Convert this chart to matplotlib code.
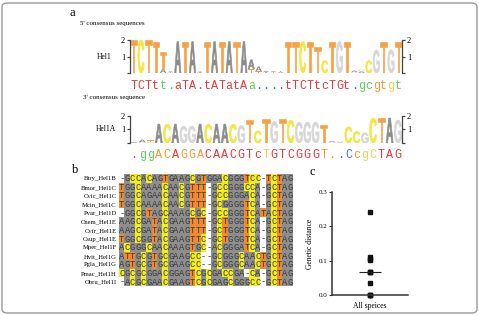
import numpy as np
import matplotlib
matplotlib.use('Agg')
import matplotlib.pyplot as plt
from matplotlib.textpath import TextPath
from matplotlib.font_manager import FontProperties
from matplotlib.patches import PathPatch, FancyBboxPatch
from matplotlib.transforms import Affine2D
from matplotlib.colors import to_rgb

plt.rcParams['font.family'] = ['Liberation Serif', 'DejaVu Serif']

# ---- data ----
hel1_consensus = "TCTtt.aTA.tATatAa....tTCTtcTGt.gcgtgt"
hel1_cons_col = "rrrrggrrrbrrrrrrgbbbbrrrrrrrrrbggooyg"
hel1_stacks = [
    {"T": 2.0}, {"C": 2.0}, {"T": 2.0}, {"T": 1.9}, {"T": 1.0, "A": 0.25},
    {"A": 0.06, "T": 0.04}, {"A": 1.9}, {"T": 1.9}, {"A": 1.9}, {"A": 0.05, "T": 0.04},
    {"T": 1.9}, {"A": 1.9}, {"T": 1.9}, {"A": 1.9}, {"T": 1.9}, {"A": 1.9},
    {"A": 0.55, "T": 0.25}, {"A": 0.3, "T": 0.1}, {"A": 0.08, "T": 0.05}, {"A": 0.06, "T": 0.05},
    {"T": 0.08, "A": 0.05}, {"T": 1.9}, {"T": 1.9}, {"C": 1.9}, {"T": 1.9}, {"T": 1.6},
    {"C": 0.75}, {"T": 1.9}, {"G": 1.9}, {"T": 1.9}, {"A": 0.1, "G": 0.05},
    {"G": 0.12, "A": 0.1}, {"C": 0.75}, {"G": 1.4}, {"T": 1.9}, {"G": 1.4}, {"T": 1.9},
]

hel1a_consensus = ".ggACAGGACAACGTcTGTCGGGT..CcgCTAG"
hel1a_cons_col = "bggoorooorrrrrrryrrrrrroobboyyrrrr"[:33]
hel1a_stacks = [
    {"A": 0.08}, {"A": 0.2, "G": 0.05}, {"T": 0.12, "G": 0.08}, {"A": 1.4}, {"C": 1.4},
    {"A": 1.4}, {"G": 1.25}, {"G": 1.25}, {"A": 1.4}, {"C": 1.4}, {"A": 1.4}, {"A": 1.4},
    {"C": 1.4}, {"G": 1.3}, {"T": 1.7}, {"C": 0.9}, {"T": 1.8}, {"G": 1.6}, {"T": 1.8},
    {"C": 1.7}, {"G": 1.55}, {"G": 1.55}, {"G": 1.55}, {"T": 1.3}, {"A": 0.08, "G": 0.06},
    {"G": 0.08, "A": 0.05}, {"C": 1.2}, {"C": 0.85}, {"G": 0.75}, {"C": 1.85}, {"T": 1.85},
    {"A": 1.85}, {"G": 1.7},
]

names = ["Btry_Hel1B", "Bmor_Hel1C", "Cvic_Hel1C", "Mcin_Hel1C", "Pvar_Hel1D",
         "Cnem_Hel1E", "Cvir_Hel1E", "Csup_Hel1E", "Mper_Hel1F", "Hvit_Hel1G",
         "Pgla_Hel1G", "Pmac_Hel1H", "Obru_Hel1I"]
seqs = ["-GCCACAGTGAAGCGTGGACGGGTCC-TCTAG",
        "TGGCAAAACAACGTTT-GCCGGGCCA-GCTAG",
        "TGGCAGAACAACGTTT-GCCGGGACA-GCTAG",
        "TGGCAAAACAACGTTT-GCGGGGTCA-GCTAG",
        "-GGCGTAGCAAAGCGC-GCCGGGTCATACTAG",
        "AAGCGATACGAAGTTT-GCTGGGTCA-GCTAG",
        "AAGCGATACGAAGTTT-GCTGGGTCA-GCTAG",
        "TGGCGGTACGAAGTTC-GCTGGGTCA-GCTAG",
        "ACGGGCAACAAAGTGC-ACGGGATCA-GCTAG",
        "ATTGCGTGCGAAGCC--GCGGGCAACTGCTAG",
        "AGTGCGTGCGAAGCC--GCGGGCAACTGCTAG",
        "CGCGCGGACGGAGTCGCGACCGA-CA-GCTAG",
        "-ACGCGAACGAAGTCGCGAGCGGGCC-GCTAG"]

distances = [0.241, 0.110, 0.106, 0.102, 0.068, 0.068, 0.068, 0.034, 0.0, 0.0, 0.0]
group_label = "All speices"

logo_colors = {"T": "#f5a246", "C": "#f3e640", "A": "#8c8c8c", "G": "#d6d6d6"}
cons_palette = {"r": "#e53a3a", "o": "#f09a35", "y": "#e2d45a", "g": "#5ccf5c", "b": "#4c6fe0"}
aln_colors = {"C": "#f2ee1a", "T": "#ef8a2e", "A": "#8e8e8e", "G": "#8e8e8e", "-": "#ffffff"}

# ---- figure ----
W, H = 479, 315
fig = plt.figure(figsize=(W / 100, H / 100), dpi=100)


def fbox(x0, y0, x1, y1):
    return [x0 / W, 1 - y1 / H, (x1 - x0) / W, (y1 - y0) / H]


def ftext(x, y, s, **kw):
    fig.text(x / W, 1 - y / H, s, **kw)


fig.patches.append(FancyBboxPatch((2 / W, 2 / H), (W - 4) / W, (H - 5) / H,
                                  boxstyle="round,pad=0,rounding_size=0.012",
                                  transform=fig.transFigure, fill=False,
                                  ec="#9a9a9a", lw=1.0))

letter_prop = FontProperties(family="Liberation Sans", weight="bold")


def draw_letter(ax, ch, x, y, w, h, color):
    tp = TextPath((0, 0), ch, size=1, prop=letter_prop)
    bb = tp.get_extents()
    t = Affine2D().translate(-bb.x0, -bb.y0).scale(w / bb.width, h / bb.height).translate(x - w / 2, y)
    # thicken strokes of the big letters only, so thin stems stay visible
    lw = 0.45 if h > 0.3 else 0
    ax.add_patch(PathPatch(t.transform_path(tp), fc=color, ec=color, lw=lw))


def draw_logo(ax, stacks, consensus, cons_col):
    n = len(stacks)
    for i, st in enumerate(stacks, start=1):
        y = 0
        for ch, h in sorted(st.items(), key=lambda kv: kv[1]):
            draw_letter(ax, ch, i, y, 0.86, h, logo_colors[ch])
            y += h
    for i, (ch, c) in enumerate(zip(consensus, cons_col), start=1):
        ax.annotate(ch, (i, 0), xytext=(0, -9), textcoords="offset points",
                    ha="center", va="center", family="Liberation Mono",
                    fontsize=8.5, color=cons_palette[c], annotation_clip=False)
    ax.set_xlim(0.5, n + 0.5)
    ax.set_ylim(0, 2)
    ax.patch.set_visible(False)
    for s in ["top", "bottom"]:
        ax.spines[s].set_visible(False)
    for s in ["left", "right"]:
        ax.spines[s].set_linewidth(0.9)
        ax.spines[s].set_color("#444444")
    ax.set_xticks([])
    ax.set_yticks([0, 1, 2])
    ax.set_yticklabels(["", "1", "2"])
    ax.tick_params(axis="y", direction="out", length=2.5, width=0.9, color="#444444",
                   labelsize=6, pad=1, left=True, right=True, labelleft=True, labelright=True)


# panel a
ftext(72, 13, "a", fontsize=9, ha="center", va="center")
ftext(80, 24, "5' consensus sequences", fontsize=5, va="center")
ftext(112, 57, "Hel1", fontsize=5.5, ha="right", va="center")
ax1 = fig.add_axes(fbox(130, 40, 402, 73))
draw_logo(ax1, hel1_stacks, hel1_consensus, hel1_cons_col)

ftext(83, 98, "3' consensus sequence", fontsize=5, va="center")
ftext(116, 129, "Hel1A", fontsize=5.5, ha="right", va="center")
ax2 = fig.add_axes(fbox(130, 116, 402, 143))
draw_logo(ax2, hel1a_stacks, hel1a_consensus, hel1a_cons_col)

# panel b
ftext(75, 170, "b", fontsize=9, ha="center", va="center")
axb = fig.add_axes(fbox(119, 174, 293, 286))
ncol = len(seqs[0])
img = np.array([[to_rgb(aln_colors[c]) for c in s] for s in seqs])
axb.imshow(img, extent=(0, ncol, len(seqs), 0), aspect="auto", interpolation="nearest")
for r, s in enumerate(seqs):
    for c, ch in enumerate(s):
        axb.text(c + 0.5, r + 0.55, ch, ha="center", va="center", family="Liberation Mono",
                 fontsize=6.3, color="#3a3a3a")
axb.set_xlim(0, ncol)
axb.set_ylim(len(seqs), 0)
axb.set_xticks([])
axb.set_yticks(np.arange(len(seqs)) + 0.5)
axb.set_yticklabels(names, fontsize=4.8)
axb.tick_params(axis="y", length=0, pad=1.5)
for s in axb.spines.values():
    s.set_visible(False)

# panel c
ftext(312, 172, "c", fontsize=9, ha="center", va="center")
axc = fig.add_axes(fbox(332, 192, 408, 295))
axc.plot(np.zeros(len(distances)), distances, "s", color="#111111", ms=2.2, clip_on=False)
axc.hlines(np.median(distances), -0.29, 0.29, color="#222222", lw=0.8)
axc.set_xlim(-1, 1)
axc.set_ylim(0, 0.3)
axc.set_yticks([0.0, 0.1, 0.2, 0.3])
axc.set_yticklabels(["0.0", "0.1", "0.2", "0.3"])
axc.set_xticks([0])
axc.set_xticklabels([group_label])
axc.set_ylabel("Genetic distance", fontsize=5.5, labelpad=4)
axc.tick_params(axis="y", labelsize=5, length=2, width=0.8, pad=1, color="#333333")
axc.tick_params(axis="x", labelsize=5.5, length=2, width=0.8, pad=3, color="#333333")
for s in ["top", "right"]:
    axc.spines[s].set_visible(False)
for s in ["left", "bottom"]:
    axc.spines[s].set_linewidth(1.1)
    axc.spines[s].set_color("#333333")

fig.savefig("out.png", dpi=100)
